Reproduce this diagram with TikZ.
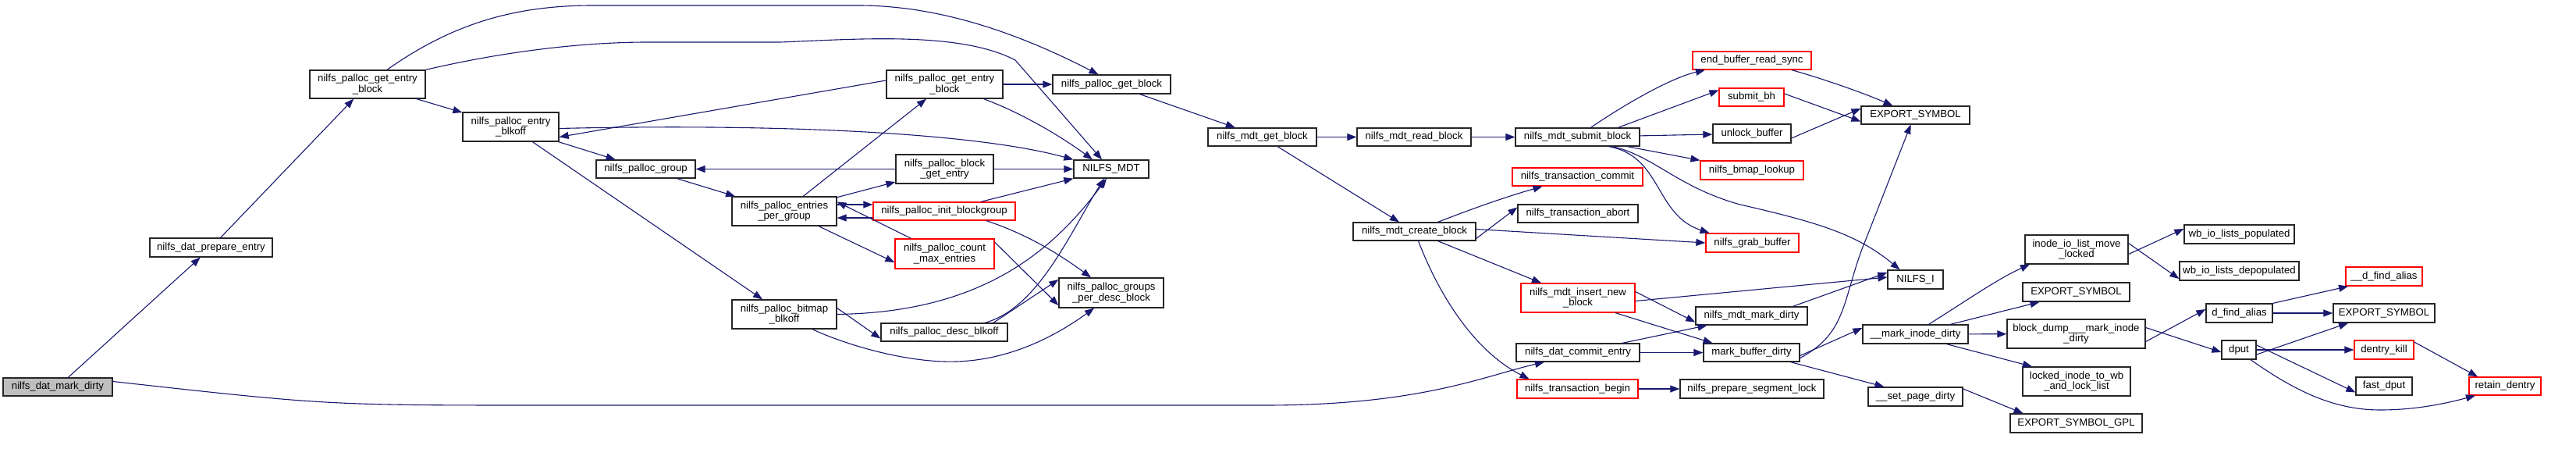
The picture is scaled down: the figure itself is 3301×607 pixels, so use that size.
\documentclass[tikz,border=0pt]{standalone}
\usepackage{fontspec}
\setmainfont{Liberation Sans}
\usetikzlibrary{arrows.meta}
\definecolor{edgeblue}{RGB}{25,25,112}
\definecolor{rootgray}{RGB}{191,191,191}
\newcommand{\fnode}[7]{\node[#1, minimum width=#5pt, minimum height=#6pt] (#2) at (#3,#4) {#7};}
\begin{document}
\begin{tikzpicture}[x=1pt,y=-1pt,
  fn/.style={draw=black!85, line width=1.3pt, rectangle, inner sep=0pt, align=center, font=\fontsize{13.2}{13.6}\selectfont},
  fnred/.style={fn, draw=red},
  root/.style={fn, fill=rootgray},
  call/.style={draw=edgeblue, line width=1.1pt, -{Triangle[length=12pt,width=9pt]}}]
\fill[white] (0,0) rectangle (3301,607);
\useasboundingbox (0,0) rectangle (3301,607);

% ---- nodes ----
\fnode{root}{datmark}{74}{495.5}{140}{23}{nilfs\_dat\_mark\_dirty}
\fnode{fn}{datprep}{270.5}{317}{157}{24}{nilfs\_dat\_prepare\_entry}
\fnode{fn}{gebA}{471}{108}{148}{36}{nilfs\_palloc\_get\_entry\\\_block}
\fnode{fn}{entblk}{654.5}{162.5}{123}{37}{nilfs\_palloc\_entry\\\_blkoff}
\fnode{fn}{group}{827.5}{216.5}{127}{23}{nilfs\_palloc\_group}
\fnode{fn}{epg}{1005}{270.5}{134}{37}{nilfs\_palloc\_entries\\\_per\_group}
\fnode{fn}{bitmap}{1005}{402.5}{134}{37}{nilfs\_palloc\_bitmap\\\_blkoff}
\fnode{fn}{gebB}{1210.5}{108}{149}{36}{nilfs\_palloc\_get\_entry\\\_block}
\fnode{fn}{getblock}{1424.5}{108}{151}{24}{nilfs\_palloc\_get\_block}
\fnode{fn}{bge}{1210.5}{216.5}{125}{37}{nilfs\_palloc\_block\\\_get\_entry}
\fnode{fn}{mdt}{1424}{216.5}{96}{23}{NILFS\_MDT}
\fnode{fnred}{initbg}{1210}{270.5}{182}{23}{nilfs\_palloc\_init\_blockgroup}
\fnode{fnred}{countmax}{1210.5}{325}{127}{38}{nilfs\_palloc\_count\\\_max\_entries}
\fnode{fn}{gpd}{1424}{375}{134}{38}{nilfs\_palloc\_groups\\\_per\_desc\_block}
\fnode{fn}{descblk}{1210}{425.5}{162}{23}{nilfs\_palloc\_desc\_blkoff}
\fnode{fn}{mdtget}{1617.5}{175.5}{139}{23}{nilfs\_mdt\_get\_block}
\fnode{fn}{mdtread}{1812}{175.5}{146}{23}{nilfs\_mdt\_read\_block}
\fnode{fn}{submit}{2021.5}{175.5}{159}{23}{nilfs\_mdt\_submit\_block}
\fnode{fnred}{tcommit}{2021.5}{226.5}{167}{23}{nilfs\_transaction\_commit}
\fnode{fn}{tabort}{2022}{273.5}{154}{23}{nilfs\_transaction\_abort}
\fnode{fn}{create}{1812.5}{296.5}{157}{23}{nilfs\_mdt\_create\_block}
\fnode{fnred}{insert}{2022}{381.5}{146}{37}{nilfs\_mdt\_insert\_new\\\_block}
\fnode{fn}{commit}{2022}{451.5}{158}{23}{nilfs\_dat\_commit\_entry}
\fnode{fnred}{tbegin}{2021.5}{498}{155}{24}{nilfs\_transaction\_begin}
\fnode{fn}{prepseg}{2245}{498}{184}{24}{nilfs\_prepare\_segment\_lock}
\fnode{fnred}{ebrs}{2245}{77.5}{152}{23}{end\_buffer\_read\_sync}
\fnode{fnred}{submitbh}{2244.5}{124.5}{83}{23}{submit\_bh}
\fnode{fn}{expA}{2454.5}{147.5}{139}{23}{EXPORT\_SYMBOL}
\fnode{fn}{unlock}{2245}{171}{100}{24}{unlock\_buffer}
\fnode{fnred}{bmap}{2245}{218}{132}{24}{nilfs\_bmap\_lookup}
\fnode{fnred}{grab}{2245.5}{311}{119}{24}{nilfs\_grab\_buffer}
\fnode{fn}{nilfsi}{2454.5}{358}{71}{24}{NILFS\_I}
\fnode{fn}{mdtmark}{2244.5}{404.5}{143}{23}{nilfs\_mdt\_mark\_dirty}
\fnode{fn}{mbd}{2244.5}{451.5}{123}{23}{mark\_buffer\_dirty}
\fnode{fn}{mid}{2454.5}{428}{135}{24}{\_\_mark\_inode\_dirty}
\fnode{fn}{spd}{2454.5}{508}{121}{24}{\_\_set\_page\_dirty}
\fnode{fn}{iolml}{2661}{319.5}{132}{37}{inode\_io\_list\_move\\\_locked}
\fnode{fn}{expB}{2660.5}{374}{137}{24}{EXPORT\_SYMBOL}
\fnode{fn}{bdump}{2660.5}{427.5}{177}{37}{block\_dump\_\_\_mark\_inode\\\_dirty}
\fnode{fn}{lockedinode}{2661}{488.5}{138}{37}{locked\_inode\_to\_wb\\\_and\_lock\_list}
\fnode{fn}{expgpl}{2660.5}{542}{169}{24}{EXPORT\_SYMBOL\_GPL}
\fnode{fn}{wbpop}{2869.5}{300}{141}{24}{wb\_io\_lists\_populated}
\fnode{fn}{wbdepop}{2869.5}{347}{153}{24}{wb\_io\_lists\_depopulated}
\fnode{fn}{dfa}{2869.5}{401}{85}{24}{d\_find\_alias}
\fnode{fn}{dput}{2869}{448}{44}{24}{dput}
\fnode{fnred}{udfa}{3055}{354}{98}{24}{\_\_d\_find\_alias}
\fnode{fn}{expC}{3055}{401}{130}{24}{EXPORT\_SYMBOL}
\fnode{fnred}{dkill}{3055}{448}{76}{24}{dentry\_kill}
\fnode{fn}{fastdput}{3055}{494.5}{72}{23}{fast\_dput}
\fnode{fnred}{retain}{3210}{494.5}{92}{23}{retain\_dentry}

% ---- edges ----
\draw[call] (datmark) -- (datprep);
\draw[call] ([yshift=7pt]datmark.east) .. controls (420,519) .. (700,519) -- (1620,519) .. controls (1820,519) and (1900,482) .. ([xshift=-43pt]commit.south);
\draw[call] (datprep) -- (gebA);
\draw[call] ([xshift=25pt]gebA.north) .. controls (580,30) and (660,7) .. (760,7) -- (1100,7) .. controls (1200,7) and (1300,40) .. ([xshift=-17pt]getblock.north);
\draw[call] (gebA.north east) .. controls (650,65) and (750,54) .. (830,54) -- (1000,54) .. controls (1100,50) and (1230,40) .. (1301,77) -- ([xshift=-12pt]mdt.north);
\draw[call] (gebA) -- (entblk);
\draw[call] ([yshift=5pt]gebB.west) -- ([yshift=-13pt]entblk.east);
\draw[call] ([yshift=-2pt]entblk.east) .. controls (1000,158) and (1250,170) .. (mdt.north west);
\draw[call] (entblk) -- (group);
\draw[call] (entblk) -- (bitmap);
\draw[call] (group) -- (epg);
\draw[call] (bge) -- (group);
\draw[call] (epg) -- (gebB);
\draw[call] (epg) -- (bge);
\draw[call] ([yshift=-8.5pt]initbg.west) -- ([yshift=-8.5pt]epg.east);
\draw[call] ([yshift=8.5pt]epg.east) -- ([yshift=8.5pt]initbg.west);
\draw[call] ([xshift=-43pt]countmax.north) -- ([yshift=12pt]epg.east);
\draw[call] ([xshift=44pt]epg.south) -- ([yshift=-11pt]countmax.west);
\draw[call] (bge) -- (mdt);
\draw[call] ([xshift=50pt]gebB.south) .. controls (1310,145) and (1360,175) .. ([xshift=-24pt]mdt.north);
\draw[call] ([xshift=47pt]initbg.north) -- (mdt.south west);
\draw[call] ([xshift=54pt]initbg.south) .. controls (1310,298) and (1350,320) .. ([xshift=-26pt]gpd.north);
\draw[call] ([yshift=15pt]countmax.east) -- ([yshift=-16pt]gpd.west);
\draw[call] (bitmap.east) .. controls (1260,400) and (1350,320) .. ([xshift=-6pt]mdt.south);
\draw[call] ([xshift=52pt]descblk.north) .. controls (1330,395) and (1370,300) .. ([xshift=-9pt]mdt.south);
\draw[call] ([xshift=63pt]descblk.north) -- ([yshift=17pt]gpd.west);
\draw[call] ([yshift=8pt]bitmap.east) -- ([yshift=-8pt]descblk.west);
\draw[call] ([xshift=36pt]bitmap.south) .. controls (1080,440) and (1160,465) .. (1225,463) .. controls (1300,461) and (1360,425) .. ([xshift=-22pt]gpd.south);
\draw[call] (gebB) -- (getblock);
\draw[call] (getblock) -- (mdtget);
\draw[call] (mdtget) -- (mdtread);
\draw[call] (mdtget) -- (create);
\draw[call] (mdtread) -- (submit);
\draw[call] ([xshift=17pt]submit.north) .. controls (2080,135) and (2140,100) .. ([xshift=-60pt]ebrs.south);
\draw[call] ([xshift=52pt]submit.north) -- ([yshift=9pt]submitbh.west);
\draw[call] (submit) -- (unlock);
\draw[call] (submit) -- (bmap);
\draw[call] ([xshift=45pt]submit.south) .. controls (2120,200) and (2150,240) .. (2230,262) .. controls (2330,285) and (2380,300) .. ([xshift=-20pt]nilfsi.north);
\draw[call] ([xshift=40pt]submit.south) .. controls (2130,200) and (2120,275) .. ([xshift=-55pt]grab.north);
\draw[call] ([xshift=30pt]create.north) .. controls (1880,270) and (1920,255) .. ([xshift=-45pt]tcommit.south);
\draw[call] ([yshift=-9pt]create.east) -- ([yshift=8pt]tabort.west);
\draw[call] ([yshift=3pt]create.east) -- (grab.west);
\draw[call] ([xshift=30pt]create.south) -- ([xshift=-47pt]insert.north);
\draw[call] ([xshift=5pt]create.south) .. controls (1845,380) and (1890,450) .. ([xshift=-62pt]tbegin.north);
\draw[call] ([yshift=-4pt]insert.east) -- ([yshift=3pt]nilfsi.west);
\draw[call] ([yshift=8pt]insert.east) -- ([yshift=-8pt]mdtmark.west);
\draw[call] ([xshift=48pt]insert.south) -- ([xshift=-50pt]mbd.north);
\draw[call] ([xshift=57pt]commit.north) -- ([xshift=-57pt]mdtmark.south);
\draw[call] (commit) -- (mbd);
\draw[call] (tbegin) -- (prepseg);
\draw[call] ([xshift=53pt]mdtmark.north) -- ([yshift=9pt]nilfsi.west);
\draw[call] ([yshift=-7pt]mbd.east) .. controls (2370,425) and (2360,380) .. (2392,304) -- ([xshift=-6pt]expA.south);
\draw[call] ([yshift=-4pt]mbd.east) -- ([yshift=8pt]mid.west);
\draw[call] ([xshift=50pt]mbd.south) -- ([xshift=-40pt]spd.north);
\draw[call] ([xshift=51pt]ebrs.south) .. controls (2340,102) and (2390,120) .. ([xshift=-29pt]expA.north);
\draw[call] ([yshift=4.5pt]submitbh.east) -- ([yshift=-8pt]expA.west);
\draw[call] ([yshift=-6pt]unlock.east) -- ([yshift=8.5pt]expA.west);
\draw[call] ([xshift=17pt]mid.north) .. controls (2520,385) and (2560,357) .. ([xshift=-60pt]iolml.south);
\draw[call] ([xshift=45pt]mid.north) -- ([xshift=-47pt]expB.south);
\draw[call] (mid) -- (bdump);
\draw[call] ([xshift=40pt]mid.south) -- ([xshift=-57pt]lockedinode.north);
\draw[call] ([yshift=10pt]spd.east) -- ([xshift=-68pt]expgpl.north);
\draw[call] ([yshift=-6pt]iolml.east) -- ([yshift=7pt]wbpop.west);
\draw[call] ([yshift=8pt]iolml.east) -- ([yshift=-10pt]wbdepop.west);
\draw[call] ([yshift=-10pt]bdump.east) -- ([yshift=5pt]dfa.west);
\draw[call] ([yshift=8pt]bdump.east) -- ([yshift=-3pt]dput.west);
\draw[call] (dfa.north east) -- ([xshift=-46pt]udfa.south);
\draw[call] (dfa) -- (expC);
\draw[call] ([yshift=-6pt]dput.east) -- ([xshift=-46pt]expC.south);
\draw[call] (dput) -- (dkill);
\draw[call] ([yshift=6pt]dput.east) -- ([yshift=-8pt]fastdput.west);
\draw[call] ([xshift=15pt]dput.south) .. controls (2940,500) and (2990,525) .. (3050,525) .. controls (3100,525) and (3140,515) .. ([xshift=-38pt]retain.south);
\draw[call] ([yshift=10pt]dkill.east) -- ([xshift=-35pt]retain.north);
\end{tikzpicture}
\end{document}
